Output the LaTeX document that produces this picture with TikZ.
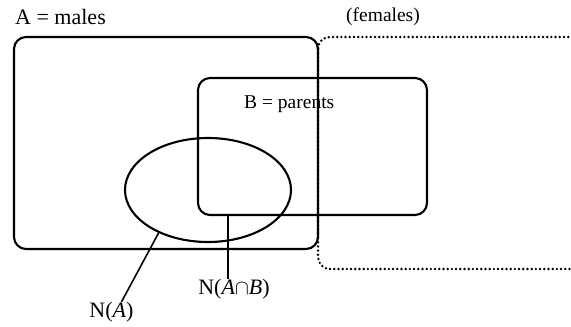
\documentclass[tikz,border=0pt]{standalone}
\usepackage{fontspec}
\setmainfont{Liberation Serif}
\usetikzlibrary{shapes.geometric}
\begin{document}
\begin{tikzpicture}[x=1pt,y=1pt,
  solidbox/.style={draw, line width=2.1pt, rounded corners=12pt, inner sep=0pt},
  dotbox/.style={draw, line width=2.7pt, line cap=round, dash pattern=on 0pt off 4.2pt, rounded corners=12pt},
  lbl/.style={inner sep=0pt},
  conn/.style={line width=1.6pt}]
\useasboundingbox (0,0) rectangle (571,327);
\begin{scope}
\clip (0,0) rectangle (571,327);
\draw[dotbox] (318,290) rectangle (582,58);
\end{scope}
\node[solidbox, minimum width=304pt, minimum height=212pt] (A) at (166,184) {};
\node[solidbox, minimum width=229pt, minimum height=137pt] (B) at (312.5,180.5) {};
\node[draw, ellipse, line width=2.1pt, minimum width=166pt, minimum height=104pt, inner sep=0pt] (E) at (208,137) {};
\node[lbl, anchor=west, font=\fontsize{22}{24}\selectfont] (la) at (15,310) {A = males};
\node[lbl, font=\fontsize{19.5}{22}\selectfont] (lf) at (383,310) {(females)};
\node[lbl, font=\fontsize{19.5}{22}\selectfont, anchor=west] (lb) at (244,223) {B = parents};
\node[lbl, font=\fontsize{22}{24}\selectfont] (nab) at (234,38) {N(\textit{A}$\cap$\textit{B})};
\node[lbl, font=\fontsize{22}{24}\selectfont] (na) at (111.5,15) {N(\textit{A})};
\draw[conn] (E.221) -- ([xshift=10pt]na.north);
\draw[conn] ([xshift=-6pt]nab.north |- B.south) -- ([xshift=-6pt]nab.north);
\end{tikzpicture}
\end{document}
